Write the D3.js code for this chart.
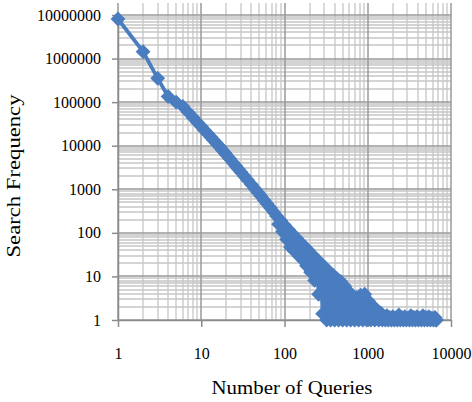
<!DOCTYPE html>
<html>
<head>
<meta charset="utf-8">
<script src="https://cdn.jsdelivr.net/npm/d3@7"></script>
<style>
body{margin:0;background:#fff;}
text{font-family:"Liberation Serif","Times New Roman",serif;fill:#000;}
</style>
</head>
<body>
<script>
// values
var queries = [1,2,3,4,5,6,7,8,9,10,11,12,13,14,15,16,17,18,19,20,
	22,24,26,28,30,33,36,40,44,48,52,57,62,68,74,
	80,85,90,95,100,106,112,118,125,132,140,148,156,165,174,184,195,206,217,230,
	243,257,271,287,303,321,339,358,379,400,423,447,473,500,528,559,590,624,660,697,
	737,779,824,871,920,973,1028,1087,1149,1214,1283,1357,1434,
	1495,1559,1625,1694,1766,1841,1919,2001,2086,2175,2267,2363,2463,2568,2677,2791,2909,3033,3162,
	3296,3437,3583,3735,3894,4059,4231,4411,4599,4794,4997,5209,5431,5662,5903,6147,6400,6548,6700];
var frequency = [8100000,1440000,352000,135000,100000,80000,58000,43800,34200,27500,22400,18800,15800,13600,11700,10200,8960,7870,6960,6200,
	4990,4100,3420,2890,2470,1990,1630,1280,1035,845,700,562,460,370,303,
	245,158,192,106,151,71,118,47,94,38,75,30,60,24,48,17.5,39,12.5,31,8.1,
	25,3.9,20,1.4,16.5,1,13,1,11,1,9,1,7.7,1,6,1,4.5,1,3.3,1,
	3.3,1,3.7,1,3.9,1,2.7,1,2.1,1,1.7,1,1.45,
	1,1.1,1,1.25,1,1.15,1,1.2,1,1.1,1,1.3,1,1.15,1,1.2,1,1.1,1,
	1.25,1,1.15,1,1.2,1,1.1,1,1.25,1,1.15,1,1.2,1,1.1,1,1.15,1,1];
var xTicks = [1,10,100,1000,10000];
var yTicks = [1,10,100,1000,10000,100000,1000000,10000000];
var xTitle = "Number of Queries";
var yTitle = "Search Frequency";

var width = 472, height = 402;
var m = {left:118, right:451, top:15, bottom:320, gridTop:3};
var blue = "#4a7dbf";

var svg = d3.select("body").append("svg")
	.attr("width", width)
	.attr("height", height);

var x = d3.scaleLog().domain([1,10000]).range([m.left, m.right]);
var y = d3.scaleLog().domain([1,10000000]).range([m.bottom, m.top]);

function isMajor(v){ return Math.abs(Math.log10(v) - Math.round(Math.log10(v))) < 1e-9; }

// minor grid first, major grid on top
var grid = svg.append("g");
var xg = x.ticks().filter(function(d){ return !isMajor(d); });
var yg = y.ticks().filter(function(d){ return !isMajor(d); });

grid.selectAll(".hmin").data(yg).enter().append("line")
	.attr("x1", m.left).attr("x2", m.right)
	.attr("y1", function(d){ return Math.round(y(d)); })
	.attr("y2", function(d){ return Math.round(y(d)); })
	.attr("stroke", "#c6c6c6").attr("stroke-width", 1.3);
grid.selectAll(".vmin").data(xg).enter().append("line")
	.attr("y1", m.gridTop).attr("y2", m.bottom)
	.attr("x1", function(d){ return Math.round(x(d)); })
	.attr("x2", function(d){ return Math.round(x(d)); })
	.attr("stroke", "#c6c6c6").attr("stroke-width", 1.3);
grid.selectAll(".hmaj").data(yTicks).enter().append("line")
	.attr("x1", m.left).attr("x2", m.right)
	.attr("y1", function(d){ return Math.round(y(d)); })
	.attr("y2", function(d){ return Math.round(y(d)); })
	.attr("stroke", "#9a9a9a").attr("stroke-width", 1.5);
grid.selectAll(".vmaj").data(xTicks).enter().append("line")
	.attr("y1", m.gridTop).attr("y2", m.bottom)
	.attr("x1", function(d){ return Math.round(x(d)); })
	.attr("x2", function(d){ return Math.round(x(d)); })
	.attr("stroke", "#9a9a9a").attr("stroke-width", 1.5);

// axes
var xAxis = svg.append("g")
	.attr("transform", "translate(0," + m.bottom + ")")
	.call(d3.axisBottom(x).tickValues(xTicks).tickFormat(d3.format("d")).tickSize(7).tickSizeOuter(0).tickPadding(21));
var yAxis = svg.append("g")
	.attr("transform", "translate(" + m.left + ",0)")
	.call(d3.axisLeft(y).tickValues(yTicks).tickFormat(d3.format("d")).tickSize(6).tickSizeOuter(0).tickPadding(11));

svg.selectAll(".domain, .tick line").attr("stroke", "#8c8c8c").attr("stroke-width", 1.5);
svg.selectAll(".tick text").attr("font-size", 16).attr("font-family", "Liberation Serif, Times New Roman, serif").attr("fill", "#111");

// series
var pts = d3.zip(queries, frequency);
var line = d3.line()
	.x(function(d){ return x(d[0]); })
	.y(function(d){ return y(d[1]); });

svg.append("path")
	.datum(pts)
	.attr("d", line)
	.attr("fill", "none")
	.attr("stroke", blue)
	.attr("stroke-width", 3.8)
	.attr("stroke-linejoin", "round");

var diamond = d3.symbol().type(d3.symbolSquare).size(110);
svg.selectAll(".pt").data(pts).enter().append("path")
	.attr("d", diamond)
	.attr("transform", function(d){ return "translate(" + x(d[0]) + "," + y(d[1]) + ") rotate(45)"; })
	.attr("fill", blue);

// titles
svg.append("text")
	.attr("x", 292).attr("y", 394)
	.attr("text-anchor", "middle")
	.attr("font-size", 19)
	.attr("textLength", 161).attr("lengthAdjust", "spacingAndGlyphs")
	.text(xTitle);

svg.append("text")
	.attr("transform", "translate(20,176) rotate(-90)")
	.attr("text-anchor", "middle")
	.attr("font-size", 19)
	.attr("textLength", 163).attr("lengthAdjust", "spacingAndGlyphs")
	.text(yTitle);
</script>
</body>
</html>
